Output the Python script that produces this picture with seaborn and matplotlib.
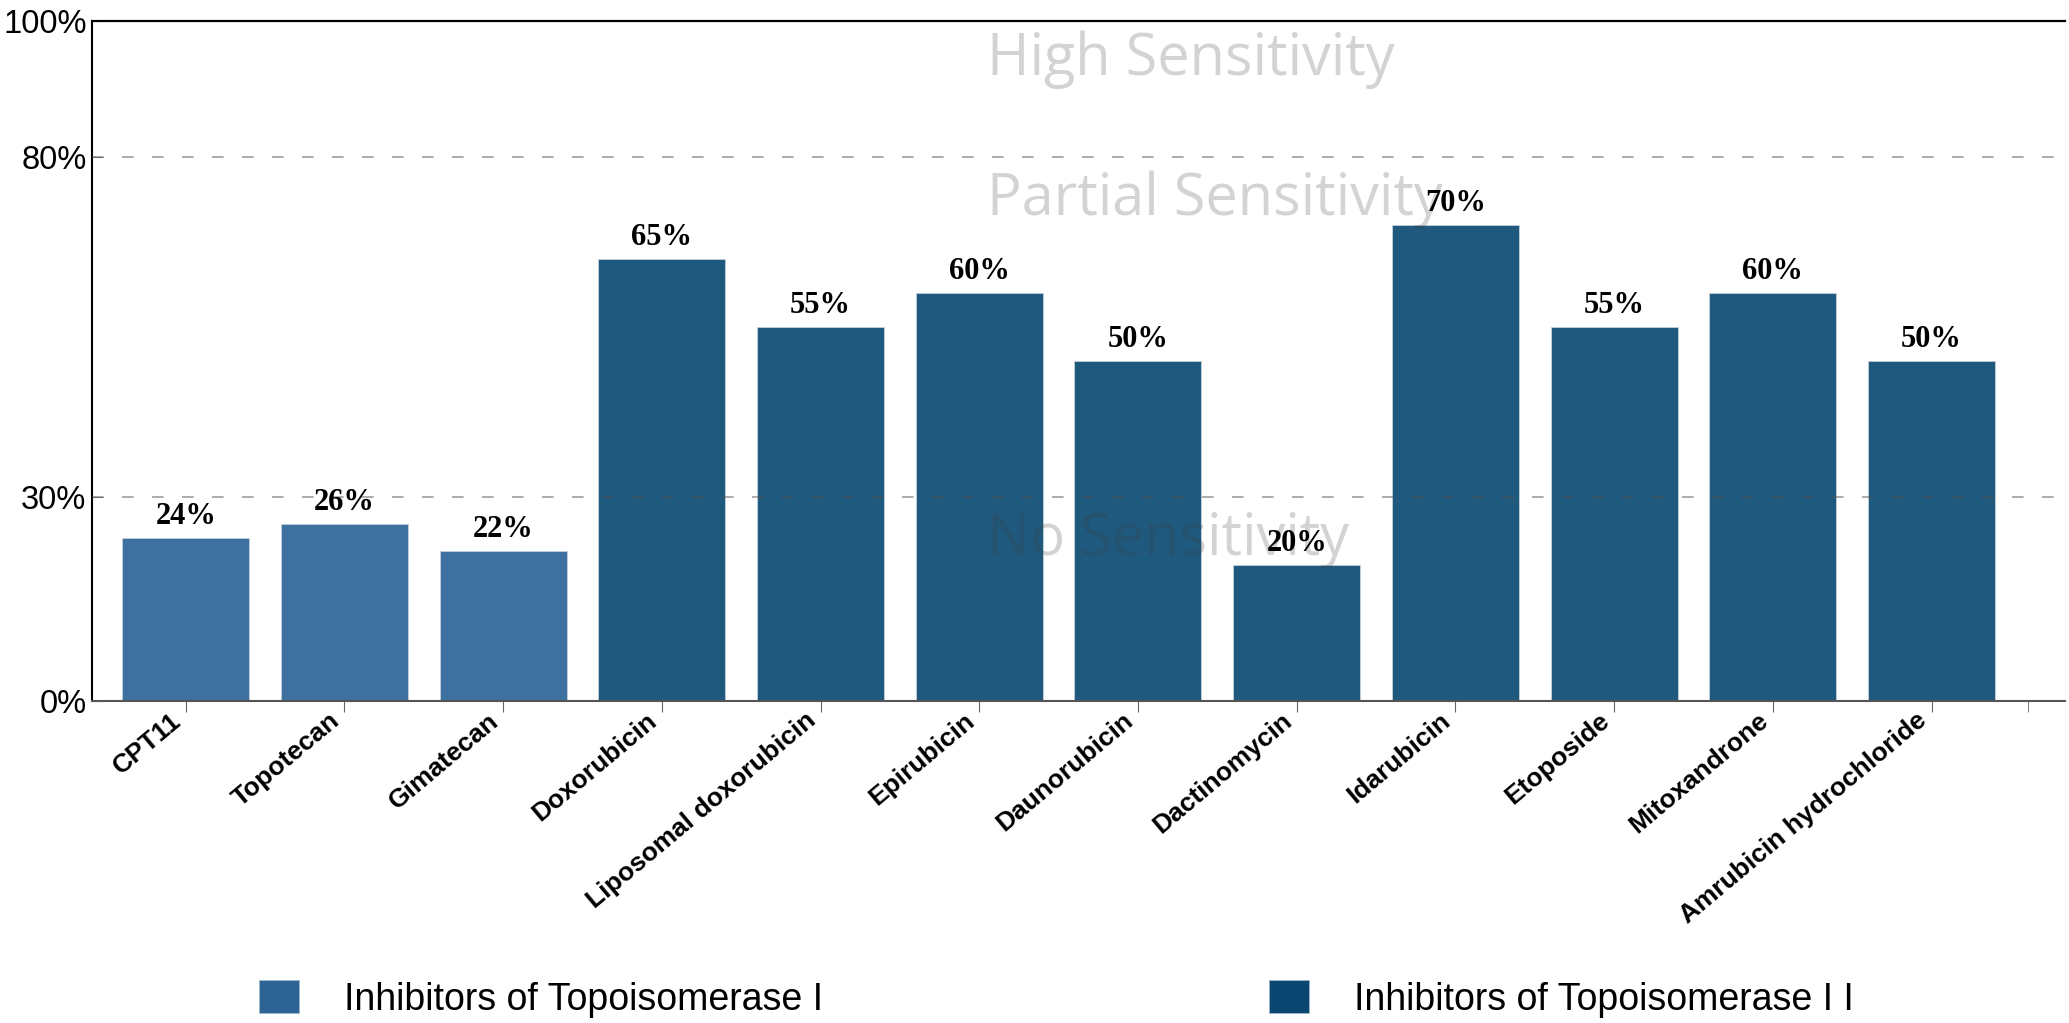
import matplotlib
matplotlib.use("Agg")
import matplotlib.pyplot as plt
import matplotlib.patches as mpatches
import matplotlib.transforms as mtransforms
from matplotlib import font_manager
import pandas as pd
import seaborn as sns

# data
drugs = ["CPT11", "Topotecan", "Gimatecan", "Doxorubicin", "Liposomal doxorubicin",
         "Epirubicin", "Daunorubicin", "Dactinomycin", "Idarubicin", "Etoposide",
         "Mitoxandrone", "Amrubicin hydrochloride"]
values = [24, 26, 22, 65, 55, 60, 50, 20, 70, 55, 60, 50]
groups = ["Topo I", "Topo I", "Topo I", "Topo II", "Topo II", "Topo II",
          "Topo II", "Topo II", "Topo II", "Topo II", "Topo II", "Topo II"]

yticks = [0, 30, 80, 100]
thresholds = [30, 80]
zone_labels = ["High Sensitivity", "Partial Sensitivity", "No Sensitivity"]
zone_y = [92, 71.5, 21.5]
legend_labels = ["Inhibitors of Topoisomerase I", "Inhibitors of Topoisomerase I I"]

bar_colors = {"Topo I": "#3F71A0", "Topo II": "#1F5A7E"}
legend_colors = ["#2E6396", "#0B4670"]

sns.set_style("white")
plt.rcParams["font.family"] = ["Liberation Sans", "DejaVu Sans"]
plt.rcParams["text.color"] = "black"
plt.rcParams["xtick.labelcolor"] = "black"
plt.rcParams["ytick.labelcolor"] = "black"

names = {f.name for f in font_manager.fontManager.ttflist}
narrow = "Liberation Sans Narrow" in names

df = pd.DataFrame({"drug": drugs, "value": values, "group": groups})

fig = plt.figure(figsize=(20.69, 10.23), dpi=100)
ax = fig.add_axes([0.0445, 0.3148, 0.9535, 0.6647])

sns.barplot(data=df, x="drug", y="value", hue="group", palette=bar_colors,
            dodge=False, legend=False, width=0.8, saturation=1,
            edgecolor="#c5d0da", linewidth=0.6, ax=ax, zorder=2)

ax.set_xlim(-0.59, 11.84)
ax.set_ylim(0, 100)
ax.set_xlabel("")
ax.set_ylabel("")

# threshold lines
for t in thresholds:
    ax.axhline(t, color="#505050", alpha=0.55, lw=1.2, ls=(0, (7, 11)), zorder=3)

# zone labels
for lab, y in zip(zone_labels, zone_y):
    ax.text(5.05, y, lab, fontsize=41.5, family=["Open Sans", "DejaVu Sans"],
            color="#3a3a3a", alpha=0.22, ha="left", va="baseline", zorder=4)

# value labels
for cont in ax.containers:
    ax.bar_label(cont, fmt="{:.0f}%", padding=5, fontsize=22, fontweight="bold",
                 color="black", family=["Liberation Serif", "DejaVu Serif"], zorder=5)

# axes styling
ax.set_yticks(yticks)
ax.set_yticklabels([f"{t}%" for t in yticks])
ax.tick_params(axis="y", direction="in", length=8, color="#888888",
               labelsize=23.5, pad=4, left=True)
ax.tick_params(axis="x", direction="out", length=8, color="#666666",
               pad=4, bottom=True)
ax.set_xticks([11.61], minor=True)
ax.tick_params(axis="x", which="minor", direction="out", length=8,
               color="#666666", bottom=True)

shift = mtransforms.ScaledTranslation(-8 / 100, 0, fig.dpi_scale_trans)
for lbl in ax.get_xticklabels():
    lbl.set_rotation(40)
    lbl.set_ha("right")
    lbl.set_va("center")
    lbl.set_rotation_mode("anchor")
    lbl.set_fontsize(19)
    lbl.set_fontweight("bold")
    lbl.set_transform(lbl.get_transform() + shift)

ax.spines["right"].set_visible(False)
ax.spines["top"].set_color("black")
ax.spines["top"].set_linewidth(1.6)
ax.spines["left"].set_color("black")
ax.spines["left"].set_linewidth(1.5)
ax.spines["bottom"].set_color("#555555")
ax.spines["bottom"].set_linewidth(1.5)

# legend, two separate entries like the reference
if narrow:
    leg_family, leg_size = ["Liberation Sans Narrow", "Liberation Sans"], 33
else:
    leg_family, leg_size = ["Liberation Sans", "DejaVu Sans"], 27
fs_px = leg_size * 100 / 72
for x0, lab, col in zip([259, 1269], legend_labels, legend_colors):
    h = mpatches.Patch(facecolor=col, edgecolor="#9fb6cc", linewidth=0.6)
    fig.legend([h], [lab], loc="center left", bbox_to_anchor=(x0 / 2069, 0.0235),
               frameon=False, prop={"family": leg_family, "size": leg_size},
               labelcolor="black",
               handlelength=40 / fs_px, handleheight=37 / fs_px,
               handletextpad=45 / fs_px, borderpad=0, borderaxespad=0)

fig.savefig("out.png", dpi=100)
